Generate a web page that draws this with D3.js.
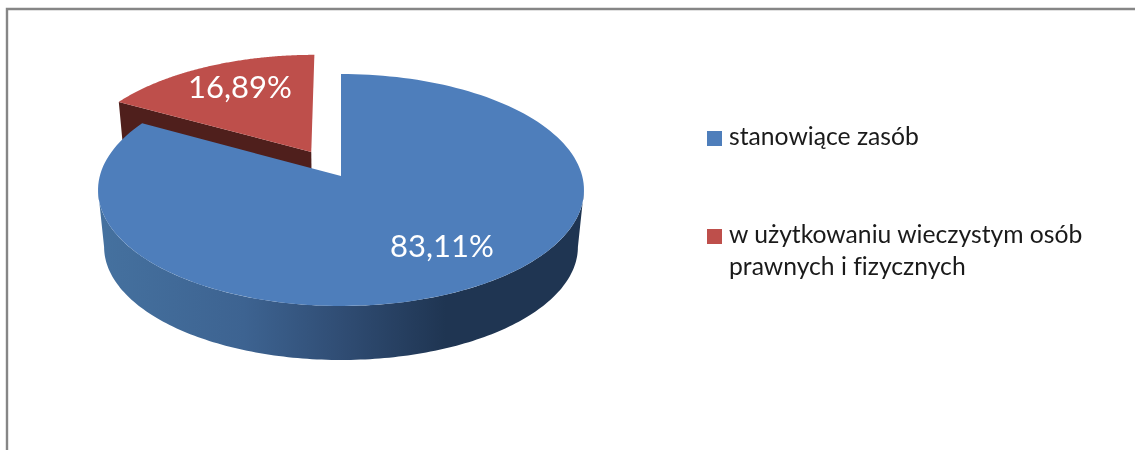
<!DOCTYPE html>
<html>
<head>
<meta charset="utf-8">
<script src="https://cdn.jsdelivr.net/npm/d3@7"></script>
<style>
    html, body { margin: 0; padding: 0; background: #fff; }
    svg { display: block; filter: blur(0.35px); }
    text { font-variant-ligatures: none; }
</style>
</head>
<body>
<script>
const categories = ["stanowiące zasób", "w użytkowaniu wieczystym osób prawnych i fizycznych"];
const shares = [83.11, 16.89];
const shareLabels = ["83,11%", "16,89%"];
const explode = [0, 0.25];

function main(){
    const canvasWidth = 1135;
    const canvasHeight = 450;

    const svg = d3.select("body").append("svg")
        .attr("width", canvasWidth)
        .attr("height", canvasHeight);

    const defs = svg.append("defs");

    // chart frame, only top and left are visible in the crop
    svg.append("path")
        .attr("d", "M7,450V9H1135")
        .attr("fill", "none")
        .attr("stroke", "#868686")
        .attr("stroke-width", 2.4);

    // perspective view of the unit circle, k tilts it towards the viewer
    const cx = 341, cy = 176;
    const k = 0.1207, a = 114.3, b = 241.2;
    const baseScale = 0.975, baseDrop = 57.25;

    function project(u, v, base){
        const s = base ? baseScale : 1;
        const d = 1 + k * v;
        return [cx + s * b * u / d, cy - s * a * v / d + (base ? baseDrop : 0)];
    }

    const color = d3.scaleOrdinal().domain(categories).range(["#4e7ebb", "#be4f4b"]);
    const sideColor = d3.scaleOrdinal().domain(categories).range(["#1f3552", "#4f1f1c"]);

    const pie = d3.pie().sort(null);
    const slices = pie(shares).map((d, i) => {
        const mid = (d.startAngle + d.endAngle) / 2;
        return {
            name: categories[i],
            label: shareLabels[i],
            start: d.startAngle,
            end: d.endAngle,
            ox: explode[i] * Math.sin(mid),
            oy: explode[i] * Math.cos(mid)
        };
    });

    const line = d3.line();
    const rim = (s, t, base) => project(s.ox + Math.sin(t), s.oy + Math.cos(t), base);
    const apex = (s, base) => project(s.ox, s.oy, base);

    function arcPoints(s, t0, t1, base){
        const n = 160;
        return d3.range(n + 1).map(i => rim(s, t0 + (t1 - t0) * i / n, base));
    }

    const blue = slices[0], red = slices[1];

    // red slice first, the blue one sits in front of it
    svg.append("path")
        .attr("d", line([apex(red), rim(red, red.start), rim(red, red.start, true), apex(red, true)]) + "Z")
        .attr("fill", sideColor(red.name));
    svg.append("path")
        .attr("d", line([apex(red), ...arcPoints(red, red.start, red.end)]) + "Z")
        .attr("fill", color(red.name));

    // blue wall, between the two silhouette tangents
    const tangent = Math.asin(k);
    const t0 = Math.PI / 2 + tangent, t1 = Math.PI * 1.5 - tangent;

    const grad = defs.append("linearGradient")
        .attr("id", "wall")
        .attr("gradientUnits", "userSpaceOnUse")
        .attr("x1", 100).attr("x2", 580).attr("y1", 0).attr("y2", 0);
    [[0, "#45719f"], [0.3, "#3d6391"], [0.5, "#304d74"], [0.72, "#1f3552"], [1, "#1f3552"]].forEach(s => {
        grad.append("stop").attr("offset", s[0]).attr("stop-color", s[1]);
    });

    svg.append("path")
        .attr("d", line([...arcPoints(blue, t0, t1), ...arcPoints(blue, t1, t0, true)]) + "Z")
        .attr("fill", "url(#wall)");
    svg.append("path")
        .attr("d", line([apex(blue), ...arcPoints(blue, blue.start, blue.end)]) + "Z")
        .attr("fill", color(blue.name));

    // value labels
    const labelPos = [[442, 257], [240, 98]];
    svg.selectAll("text.share")
        .data(slices)
        .join("text")
        .attr("class", "share")
        .attr("x", (d, i) => labelPos[i][0])
        .attr("y", (d, i) => labelPos[i][1])
        .attr("text-anchor", "middle")
        .attr("font-family", "Lato, sans-serif")
        .attr("font-size", "31px")
        .attr("fill", "#fff")
        .text(d => d.label);

    // legend
    const legendLines = [["stanowiące zasób"], ["w użytkowaniu wieczystym osób", "prawnych i fizycznych"]];
    const legendY = d3.scalePoint().domain(categories).range([145, 243]);
    const legend = svg.selectAll("g.legend")
        .data(categories)
        .join("g")
        .attr("class", "legend")
        .attr("transform", d => `translate(0,${legendY(d)})`);

    legend.append("rect")
        .attr("x", 707)
        .attr("y", -14)
        .attr("width", 15)
        .attr("height", 15)
        .attr("fill", d => color(d));

    legend.each(function(d, i){
        d3.select(this).selectAll("text")
            .data(legendLines[i])
            .join("text")
            .attr("x", 729)
            .attr("y", (t, j) => j * 32)
            .attr("font-family", "Lato, sans-serif")
            .attr("font-size", "24.7px")
            .attr("fill", "#1a1a1a")
            .text(t => t);
    });
}
main();
</script>
</body>
</html>
